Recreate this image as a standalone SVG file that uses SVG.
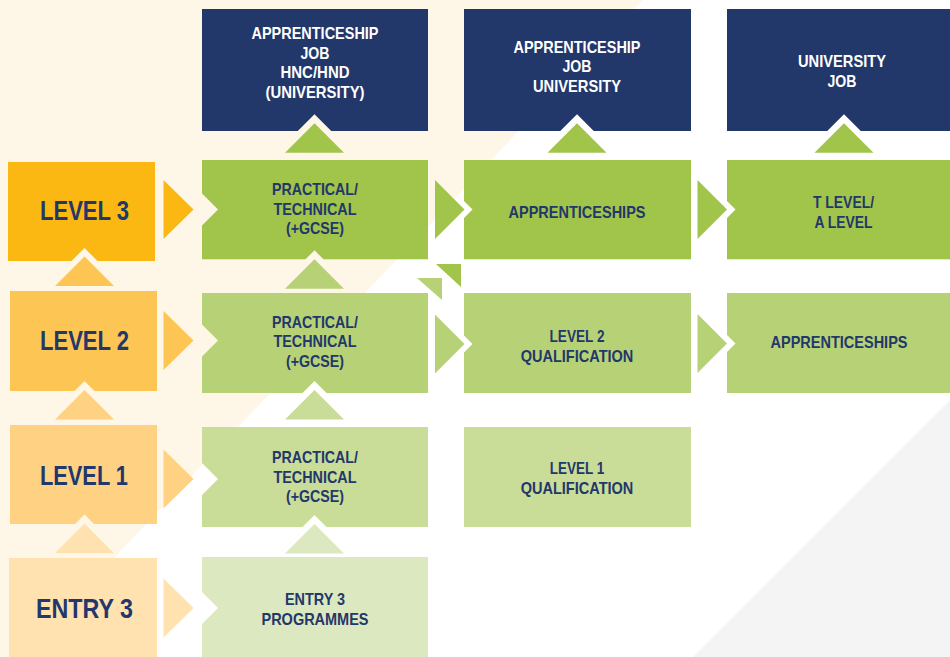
<svg xmlns="http://www.w3.org/2000/svg" width="950" height="657" viewBox="0 0 950 657">
<style>
.navy{fill:#22376A}
.l3{fill:#FBB812}.l2{fill:#FDC553}.l1{fill:#FED282}.le{fill:#FFE2AF}
.g3{fill:#A1C44B}.g2{fill:#B7D276}.g1{fill:#C9DD99}.ge{fill:#DCE8BF}
text{font-family:"Liberation Sans",Arial,sans-serif;font-weight:bold;text-anchor:middle}
.wt{fill:#FFFFFF;font-size:16.5px}
.bt{fill:#22376A;font-size:16.5px}
.lt{fill:#22376A;font-size:28px}
</style>
<defs>
<mask id="cut" maskUnits="userSpaceOnUse" x="0" y="0" width="950" height="657">
<rect x="0" y="0" width="950" height="657" fill="#fff"/>
<g fill="#000">
<polygon points="59.5,273 84.5,248 109.5,273"/>
<polygon points="59.5,406 84.5,381 109.5,406"/>
<polygon points="59.5,539.5 84.5,514.5 109.5,539.5"/>
<polygon points="289.5,139.3 314.5,114.3 339.5,139.3"/>
<polygon points="289.5,275.3 314.5,250.3 339.5,275.3"/>
<polygon points="289.5,406 314.5,381 339.5,406"/>
<polygon points="289.5,540 314.5,515 339.5,540"/>
<polygon points="552,139.3 577,114.3 602,139.3"/>
<polygon points="819,139.3 844,114.3 869,139.3"/>
<polygon points="190,181.5 218,209.5 190,237.5"/>
<polygon points="190,312.5 218,340.5 190,368.5"/>
<polygon points="190,451 218,479 190,507"/>
<polygon points="190,580 218,608 190,636"/>
<polygon points="444,181 472.5,209.5 444,238"/>
<polygon points="444,315.5 472.5,344 444,372.5"/>
<polygon points="707,181 735.5,209.5 707,238"/>
<polygon points="707,315 735.5,343.5 707,372"/>
</g>
</mask>
</defs>

<g id="background">
<rect x="0" y="0" width="950" height="657" fill="#FFFFFF"/>
<polygon points="0,0 643,0 20,657 0,657" fill="#FEF6E6"/>
<polygon points="950,400 950,657 693,657" fill="#F4F4F4"/>
</g>

<g id="nodes" mask="url(#cut)">
<g id="out1"><rect class="navy" x="202" y="9" width="226" height="122"/></g>
<g id="out2"><rect class="navy" x="464" y="9" width="227" height="122"/></g>
<g id="out3"><rect class="navy" x="727" y="9" width="223" height="122"/></g>
<g id="level3"><rect class="l3" x="8" y="162" width="147" height="99"/></g>
<g id="level2"><rect class="l2" x="10" y="291" width="147" height="100"/></g>
<g id="level1"><rect class="l1" x="10" y="425" width="147" height="99"/></g>
<g id="entry3"><rect class="le" x="9" y="558" width="148" height="99"/></g>
<g id="pt3"><rect class="g3" x="202" y="160" width="226" height="99.3"/></g>
<g id="app3"><rect class="g3" x="464" y="160" width="227" height="99.3"/></g>
<g id="tlevel"><rect class="g3" x="727" y="160" width="223" height="99.3"/></g>
<g id="pt2"><rect class="g2" x="202" y="293" width="226" height="100"/></g>
<g id="lq2"><rect class="g2" x="464" y="293" width="227" height="100"/></g>
<g id="app2"><rect class="g2" x="727" y="293" width="223" height="100"/></g>
<g id="pt1"><rect class="g1" x="202" y="427" width="226" height="100"/></g>
<g id="lq1"><rect class="g1" x="464" y="427" width="227" height="100"/></g>
<g id="ep"><rect class="ge" x="202" y="557" width="226" height="100"/></g>
</g>

<g id="connectors">
<polygon class="l2" points="55,286 84.5,256.5 114,286"/>
<polygon class="l1" points="55,419.5 84.5,390 114,419.5"/>
<polygon class="le" points="55,553.3 84.5,523.5 114,553.3"/>
<polygon class="l3" points="163.5,180 193.5,209.5 163.5,239"/>
<polygon class="l2" points="163.5,311 193.5,340.5 163.5,370"/>
<polygon class="l1" points="163.5,449.5 193.5,479 163.5,508.5"/>
<polygon class="le" points="163.5,578.5 193.5,608 163.5,637.5"/>
<polygon class="g3" points="285,152.8 314.5,123.3 344,152.8"/>
<polygon class="g2" points="285,288.8 314.5,259.3 344,288.8"/>
<polygon class="g1" points="285,419.5 314.5,390 344,419.5"/>
<polygon class="ge" points="285,553.5 314.5,524 344,553.5"/>
<polygon class="g3" points="547.5,152.8 577,123.3 606.5,152.8"/>
<polygon class="g3" points="814.5,152.8 844,123.3 873.5,152.8"/>
<polygon class="g3" points="435,180 464.5,209.5 435,239"/>
<polygon class="g2" points="435,314.5 464.5,344 435,373.5"/>
<polygon class="g3" points="697.5,180 727,209.5 697.5,239"/>
<polygon class="g2" points="697.5,314 727,343.5 697.5,373"/>
<polygon class="g3" points="436,264 461,264 461,287"/>
<polygon class="g2" points="417,278 442,278 442,300"/>
</g>

<g id="labels">
<text class="wt" x="315" y="39" textLength="127" lengthAdjust="spacingAndGlyphs">APPRENTICESHIP</text>
<text class="wt" x="315" y="58.5" textLength="29" lengthAdjust="spacingAndGlyphs">JOB</text>
<text class="wt" x="315" y="78" textLength="69" lengthAdjust="spacingAndGlyphs">HNC/HND</text>
<text class="wt" x="315" y="97.5" textLength="99" lengthAdjust="spacingAndGlyphs">(UNIVERSITY)</text>
<text class="wt" x="577" y="52.5" textLength="127" lengthAdjust="spacingAndGlyphs">APPRENTICESHIP</text>
<text class="wt" x="577" y="72.3" textLength="29" lengthAdjust="spacingAndGlyphs">JOB</text>
<text class="wt" x="577" y="92.2" textLength="88" lengthAdjust="spacingAndGlyphs">UNIVERSITY</text>
<text class="wt" x="842" y="66.7" textLength="88" lengthAdjust="spacingAndGlyphs">UNIVERSITY</text>
<text class="wt" x="842" y="86.7" textLength="29" lengthAdjust="spacingAndGlyphs">JOB</text>

<text class="lt" x="84.5" y="219.5" textLength="89" lengthAdjust="spacingAndGlyphs">LEVEL 3</text>
<text class="lt" x="84.5" y="350" textLength="89" lengthAdjust="spacingAndGlyphs">LEVEL 2</text>
<text class="lt" x="84" y="485" textLength="88" lengthAdjust="spacingAndGlyphs">LEVEL 1</text>
<text class="lt" x="84.5" y="618.3" textLength="97" lengthAdjust="spacingAndGlyphs">ENTRY 3</text>

<text class="bt" x="315" y="195" textLength="86" lengthAdjust="spacingAndGlyphs">PRACTICAL/</text>
<text class="bt" x="315" y="214.5" textLength="83" lengthAdjust="spacingAndGlyphs">TECHNICAL</text>
<text class="bt" x="315" y="234" textLength="58" lengthAdjust="spacingAndGlyphs">(+GCSE)</text>
<text class="bt" x="577" y="218.3" textLength="137" lengthAdjust="spacingAndGlyphs">APPRENTICESHIPS</text>
<text class="bt" x="843.5" y="208.3" textLength="61" lengthAdjust="spacingAndGlyphs">T LEVEL/</text>
<text class="bt" x="843.5" y="228.3" textLength="58" lengthAdjust="spacingAndGlyphs">A LEVEL</text>

<text class="bt" x="315" y="328" textLength="86" lengthAdjust="spacingAndGlyphs">PRACTICAL/</text>
<text class="bt" x="315" y="347.3" textLength="83" lengthAdjust="spacingAndGlyphs">TECHNICAL</text>
<text class="bt" x="315" y="366.7" textLength="58" lengthAdjust="spacingAndGlyphs">(+GCSE)</text>
<text class="bt" x="577" y="342.3" textLength="55" lengthAdjust="spacingAndGlyphs">LEVEL 2</text>
<text class="bt" x="577" y="361.7" textLength="112.7" lengthAdjust="spacingAndGlyphs">QUALIFICATION</text>
<text class="bt" x="839" y="348.3" textLength="137" lengthAdjust="spacingAndGlyphs">APPRENTICESHIPS</text>

<text class="bt" x="315" y="463.3" textLength="86" lengthAdjust="spacingAndGlyphs">PRACTICAL/</text>
<text class="bt" x="315" y="482.7" textLength="83" lengthAdjust="spacingAndGlyphs">TECHNICAL</text>
<text class="bt" x="315" y="502.3" textLength="58" lengthAdjust="spacingAndGlyphs">(+GCSE)</text>
<text class="bt" x="577" y="474" textLength="54.5" lengthAdjust="spacingAndGlyphs">LEVEL 1</text>
<text class="bt" x="577" y="494" textLength="112.7" lengthAdjust="spacingAndGlyphs">QUALIFICATION</text>

<text class="bt" x="315" y="605.3" textLength="60" lengthAdjust="spacingAndGlyphs">ENTRY 3</text>
<text class="bt" x="315" y="625.3" textLength="107" lengthAdjust="spacingAndGlyphs">PROGRAMMES</text>
</g>
</svg>
